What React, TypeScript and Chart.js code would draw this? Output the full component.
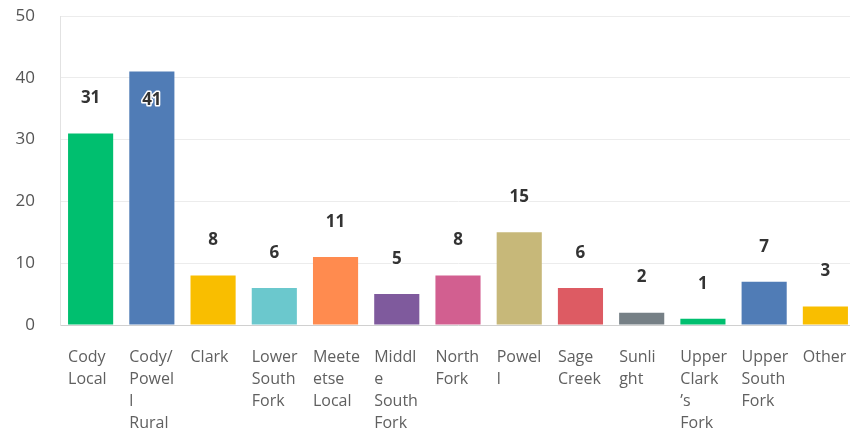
import React, { useEffect, useRef } from "react";
import { Chart, registerables } from "chart.js";
Chart.register(...registerables);

const categoryLines: string[][] = [
  ["Cody", "Local"],
  ["Cody/", "Powel", "l", "Rural"],
  ["Clark"],
  ["Lower", "South", "Fork"],
  ["Meete", "etse", "Local"],
  ["Middl", "e", "South", "Fork"],
  ["North", "Fork"],
  ["Powel", "l"],
  ["Sage", "Creek"],
  ["Sunli", "ght"],
  ["Upper", "Clark", "’s", "Fork"],
  ["Upper", "South", "Fork"],
  ["Other"],
];
const values = [31, 41, 8, 6, 11, 5, 8, 15, 6, 2, 1, 7, 3];
const barColors = [
  "#00bf6f", "#507cb6", "#f9be00", "#6bc8cd", "#ff8b4f", "#7f5a9d", "#d25f90",
  "#c7b879", "#dd5b63", "#768086", "#00bf6f", "#507cb6", "#f9be00",
];
const yMin = 0;
const yMax = 50;
const yStep = 10;

const FONT = '"Open Sans", "Noto Sans", sans-serif';

const labelPlugin = {
  id: "labelPlugin",
  afterDatasetsDraw(chart: any) {
    const ctx = chart.ctx;
    const meta = chart.getDatasetMeta(0);
    const area = chart.chartArea;
    ctx.save();
    meta.data.forEach((bar: any, i: number) => {
      const { x, y, width } = bar.getProps(["x", "y", "width"], true);
      // value label
      let ly = y - 35;
      if (ly < area.top + 40) ly = y + 29;
      ctx.font = `bold 17px ${FONT}`;
      ctx.textAlign = "center";
      ctx.textBaseline = "middle";
      ctx.lineWidth = 3;
      ctx.strokeStyle = "#ffffff";
      ctx.lineJoin = "round";
      ctx.strokeText(String(values[i]), x, ly);
      ctx.fillStyle = "#333333";
      ctx.fillText(String(values[i]), x, ly);
      // category label
      ctx.font = `16px ${FONT}`;
      ctx.textAlign = "left";
      ctx.textBaseline = "middle";
      ctx.fillStyle = "#606060";
      const left = x - width / 2;
      categoryLines[i].forEach((line, j) => {
        ctx.fillText(line, left, area.bottom + 32 + j * 22);
      });
    });
    ctx.restore();
  },
};

export default function App() {
  const ref = useRef<HTMLCanvasElement | null>(null);
  useEffect(() => {
    document.body.style.overflow = "hidden";
    const chart = new Chart(ref.current as HTMLCanvasElement, {
      type: "bar",
      data: {
        labels: categoryLines.map((l) => l.join(" ")),
        datasets: [
          {
            data: values,
            backgroundColor: barColors,
            borderWidth: 0,
            barPercentage: 0.737,
            categoryPercentage: 1,
          },
        ],
      },
      options: {
        responsive: false,
        animation: false,
        layout: { padding: { top: 16, left: 0, right: 0, bottom: 0 } },
        plugins: { legend: { display: false }, tooltip: { enabled: false } },
        scales: {
          x: {
            grid: { display: false },
            border: { display: true, color: "#d0d0d0", width: 1 },
            ticks: { display: false },
            afterFit: (s: any) => {
              s.height = 112;
              s.paddingLeft = 0;
              s.paddingRight = 0;
              s.paddingTop = 0;
              s.paddingBottom = 0;
            },
          },
          y: {
            min: yMin,
            max: yMax,
            grid: { color: "#ececec", drawTicks: false },
            border: { display: true, color: "#e2e2e2", width: 1 },
            ticks: {
              stepSize: yStep,
              padding: 25,
              color: "#555555",
              font: { size: 17, family: FONT },
            },
            afterFit: (s: any) => {
              s.width = 60;
              s.paddingTop = 0;
              s.paddingBottom = 0;
              s.paddingLeft = 0;
              s.paddingRight = 0;
            },
          },
        },
      },
      plugins: [labelPlugin],
    });
    return () => chart.destroy();
  }, []);
  return (
    <div style={{ position: "fixed", left: 0, top: 0, width: 856, height: 437 }}>
      <canvas ref={ref} width={856} height={437} />
    </div>
  );
}
